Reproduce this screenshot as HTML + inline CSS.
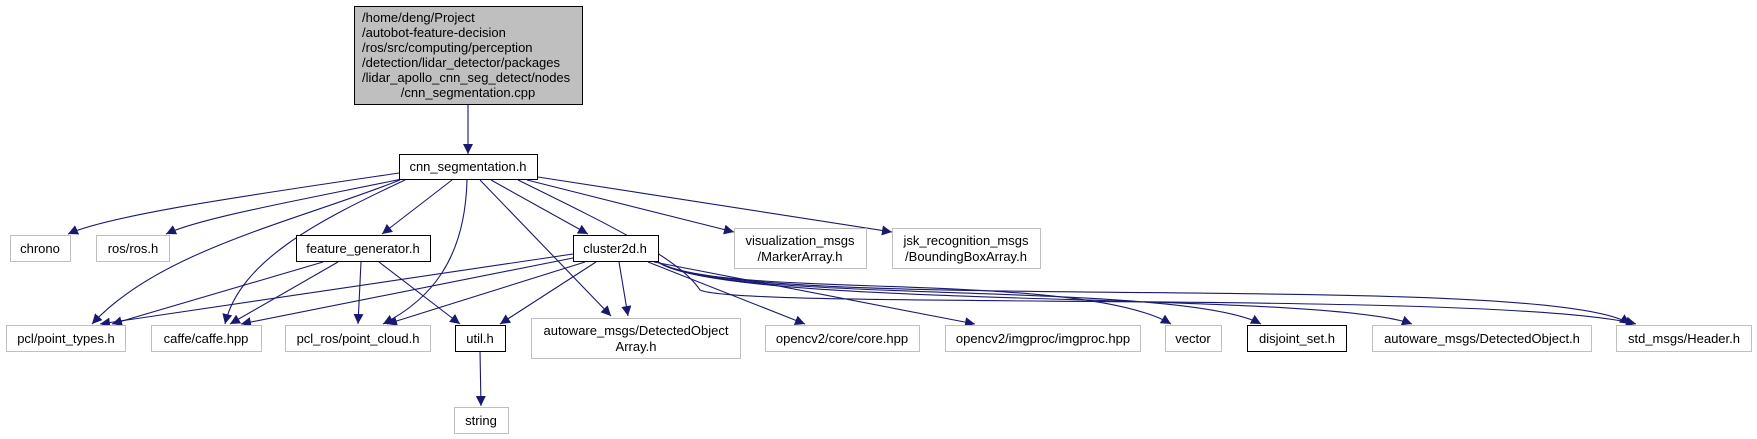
<!DOCTYPE html>
<html><head><meta charset="utf-8"><style>
html,body{margin:0;padding:0;background:#fff;}
svg{display:block;}
text{font-family:"Liberation Sans",sans-serif;font-size:13px;fill:#000;}
</style></head><body>
<svg width="1757" height="439" viewBox="0 0 1757 439" xmlns="http://www.w3.org/2000/svg">
<defs>
<marker id="a" viewBox="0 0 10 10" refX="10" refY="5" markerWidth="10" markerHeight="10" markerUnits="userSpaceOnUse" orient="auto">
<path d="M0,0 L10,5 L0,10 z" fill="#191970"/>
</marker>
</defs>
<g fill="none" stroke="#191970" stroke-width="1.1" marker-end="url(#a)">
<path d="M468,105 L468,154"/>
<path d="M399,173 C250,195 110,215 68,234"/>
<path d="M402,179 C300,200 200,218 166,234"/>
<path d="M400,180 C300,220 160,250 92,324"/>
<path d="M405,180 C320,220 240,260 225,324"/>
<path d="M452,180 L382,234"/>
<path d="M467,180 C465,260 430,300 383,324"/>
<path d="M480,180 L611,316"/>
<path d="M491,180 L588,234"/>
<path d="M518,180 C620,230 680,260 700,290 C740,310 1500,290 1636,324"/>
<path d="M527,180 L734,232"/>
<path d="M538,177 L892,232"/>
<path d="M323,262 L112,324"/>
<path d="M338,262 L230,324"/>
<path d="M361,262 L358,324"/>
<path d="M379,262 L460,324"/>
<path d="M573,254 L100,324"/>
<path d="M573,258 L241,324"/>
<path d="M585,262 L387,324"/>
<path d="M596,262 L500,324"/>
<path d="M619,262 L628,316"/>
<path d="M648,262 L805,324"/>
<path d="M654,262 L975,324"/>
<path d="M658,262 C720,300 1080,270 1171,324"/>
<path d="M658,262 C720,305 1180,280 1261,324"/>
<path d="M658,262 C730,310 1320,290 1412,324"/>
<path d="M658,262 C740,315 1550,270 1630,324"/>
<path d="M480,351 L481,406"/>
</g>
<g stroke-width="1">
<rect x="354.5" y="6.5" width="228" height="98" fill="#bfbfbf" stroke="#000"/>
<rect x="399.5" y="154.5" width="138" height="25" fill="#fff" stroke="#000"/>
<rect x="10.5" y="235.5" width="60" height="26" fill="#fff" stroke="#bfbfbf"/>
<rect x="96.5" y="235.5" width="73" height="26" fill="#fff" stroke="#bfbfbf"/>
<rect x="296.5" y="235.5" width="134" height="26" fill="#fff" stroke="#000"/>
<rect x="573.5" y="235.5" width="85" height="26" fill="#fff" stroke="#000"/>
<rect x="734.5" y="228.5" width="132" height="40" fill="#fff" stroke="#bfbfbf"/>
<rect x="892.5" y="228.5" width="148" height="40" fill="#fff" stroke="#bfbfbf"/>
<rect x="6.5" y="325.5" width="119" height="26" fill="#fff" stroke="#bfbfbf"/>
<rect x="151.5" y="325.5" width="110" height="26" fill="#fff" stroke="#bfbfbf"/>
<rect x="285.5" y="325.5" width="145" height="26" fill="#fff" stroke="#bfbfbf"/>
<rect x="455.5" y="325.5" width="50" height="26" fill="#fff" stroke="#000"/>
<rect x="531.5" y="318.5" width="209" height="40" fill="#fff" stroke="#bfbfbf"/>
<rect x="765.5" y="325.5" width="154" height="26" fill="#fff" stroke="#bfbfbf"/>
<rect x="945.5" y="325.5" width="195" height="26" fill="#fff" stroke="#bfbfbf"/>
<rect x="1165.5" y="325.5" width="56" height="26" fill="#fff" stroke="#bfbfbf"/>
<rect x="1247.5" y="325.5" width="99" height="26" fill="#fff" stroke="#000"/>
<rect x="1372.5" y="325.5" width="219" height="26" fill="#fff" stroke="#bfbfbf"/>
<rect x="1616.5" y="325.5" width="135" height="26" fill="#fff" stroke="#bfbfbf"/>
<rect x="454.5" y="407.5" width="54" height="26" fill="#fff" stroke="#bfbfbf"/>
</g>
<g>
<text x="362" y="22">/home/deng/Project</text>
<text x="362" y="37">/autobot-feature-decision</text>
<text x="362" y="52">/ros/src/computing/perception</text>
<text x="362" y="67">/detection/lidar_detector/packages</text>
<text x="362" y="82">/lidar_apollo_cnn_seg_detect/nodes</text>
<text x="468" y="97" text-anchor="middle">/cnn_segmentation.cpp</text>
</g>
<g text-anchor="middle">
<text x="468" y="171">cnn_segmentation.h</text>
<text x="40" y="253">chrono</text>
<text x="133" y="253">ros/ros.h</text>
<text x="363" y="253">feature_generator.h</text>
<text x="615" y="253">cluster2d.h</text>
<text x="800" y="245">visualization_msgs</text>
<text x="800" y="261">/MarkerArray.h</text>
<text x="966" y="245">jsk_recognition_msgs</text>
<text x="966" y="261">/BoundingBoxArray.h</text>
<text x="66" y="343">pcl/point_types.h</text>
<text x="206" y="343">caffe/caffe.hpp</text>
<text x="358" y="343">pcl_ros/point_cloud.h</text>
<text x="480" y="343">util.h</text>
<text x="636" y="335">autoware_msgs/DetectedObject</text>
<text x="636" y="351">Array.h</text>
<text x="842" y="343">opencv2/core/core.hpp</text>
<text x="1043" y="343">opencv2/imgproc/imgproc.hpp</text>
<text x="1193" y="343">vector</text>
<text x="1297" y="343">disjoint_set.h</text>
<text x="1482" y="343">autoware_msgs/DetectedObject.h</text>
<text x="1684" y="343">std_msgs/Header.h</text>
<text x="481" y="425">string</text>
</g>
</svg>
</body></html>
